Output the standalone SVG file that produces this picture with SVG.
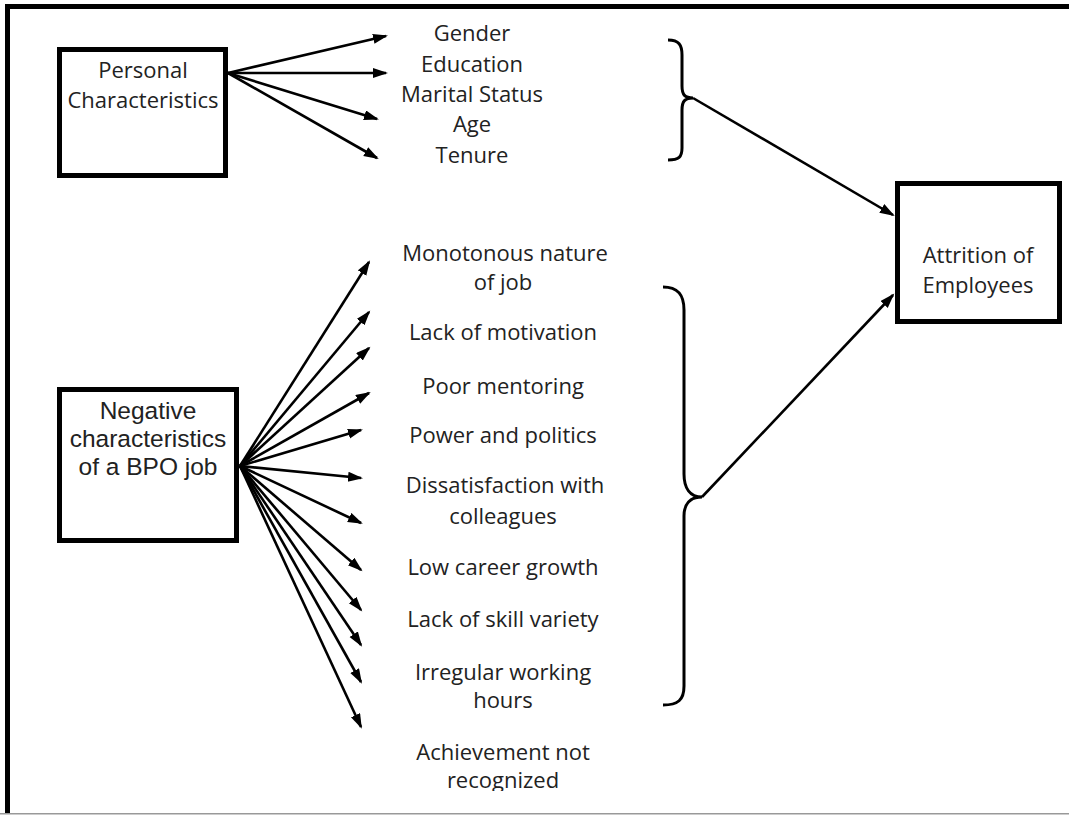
<svg xmlns="http://www.w3.org/2000/svg" width="1069" height="815" viewBox="0 0 1069 815">
<defs>
<style>
.box{fill:#fff;stroke:#000;stroke-width:5}
.lbl{font-family:"Open Sans","Liberation Sans",sans-serif;font-size:22px;fill:#222;text-anchor:middle}
.arial{font-family:"Liberation Sans",Arial,sans-serif;font-size:24.5px;fill:#222;text-anchor:middle}
.con{stroke:#000;stroke-width:2.6;fill:none;marker-end:url(#ah)}
.brace{stroke:#000;stroke-width:3;fill:none}
</style>
<marker id="ah" markerUnits="userSpaceOnUse" markerWidth="16" markerHeight="12" refX="13" refY="5" orient="auto">
<path d="M0,0 L15,5 L0,10 z" fill="#000"/>
</marker>
<clipPath id="clipb"><rect x="0" y="0" width="1069" height="791"/></clipPath>
</defs>
<rect x="0" y="0" width="1069" height="815" fill="#fff"/>
<g id="frame">
<rect x="5" y="4" width="1064" height="5" fill="#000"/>
<rect x="5" y="4" width="5" height="810" fill="#000"/>
<rect x="0" y="813" width="1069" height="1.5" fill="#999"/>
</g>
<g id="personal">
<rect class="box" x="59.5" y="49.5" width="166" height="126"/>
<text class="lbl" x="143" y="78">Personal</text>
<text class="lbl" x="143" y="108">Characteristics</text>
</g>
<g id="negative">
<rect class="box" x="59.5" y="389.5" width="177" height="151"/>
<text class="arial" x="148" y="419">Negative</text>
<text class="arial" x="148" y="447">characteristics</text>
<text class="arial" x="148" y="475">of a BPO job</text>
</g>
<g id="attrition">
<rect class="box" x="897.5" y="183.5" width="162" height="138"/>
<text class="lbl" x="978" y="263">Attrition of</text>
<text class="lbl" x="978" y="293">Employees</text>
</g>
<g id="personal-items">
<text class="lbl" x="472" y="41">Gender</text>
<text class="lbl" x="472" y="72">Education</text>
<text class="lbl" x="472" y="102">Marital Status</text>
<text class="lbl" x="472" y="132">Age</text>
<text class="lbl" x="472" y="163">Tenure</text>
</g>
<g id="negative-items">
<text class="lbl" x="505" y="261">Monotonous nature</text>
<text class="lbl" x="503" y="290">of job</text>
<text class="lbl" x="503" y="340">Lack of motivation</text>
<text class="lbl" x="503" y="394">Poor mentoring</text>
<text class="lbl" x="503" y="443">Power and politics</text>
<text class="lbl" x="505" y="493">Dissatisfaction with</text>
<text class="lbl" x="503" y="524">colleagues</text>
<text class="lbl" x="503" y="575">Low career growth</text>
<text class="lbl" x="503" y="627">Lack of skill variety</text>
<text class="lbl" x="503" y="680">Irregular working</text>
<text class="lbl" x="503" y="708">hours</text>
<text class="lbl" x="503" y="760">Achievement not</text>
<text class="lbl" x="503" y="788" clip-path="url(#clipb)">recognized</text>
</g>
<g id="braces">
<path class="brace" d="M668,40 C679,40 682,45 682,55 L682,86 C682,95 685,98 693,98 C685,98 682,101 682,110 L682,148 C682,157 679,160 668,160"/>
<path class="brace" d="M663,287 C678,287 684,295 684,310 L684,474 C684,488 690,497 702,497 C690,497 684,504 684,516 L684,686 C684,700 678,705 663,705"/>
</g>
<g id="connectors">
<line class="con" x1="228" y1="73" x2="386" y2="36"/>
<line class="con" x1="228" y1="73" x2="386" y2="73"/>
<line class="con" x1="228" y1="73" x2="377" y2="119"/>
<line class="con" x1="228" y1="73" x2="377" y2="158"/>
<line class="con" x1="240" y1="466" x2="369" y2="262"/>
<line class="con" x1="240" y1="466" x2="369" y2="312"/>
<line class="con" x1="240" y1="466" x2="369" y2="348"/>
<line class="con" x1="240" y1="466" x2="369" y2="393"/>
<line class="con" x1="240" y1="466" x2="361" y2="430"/>
<line class="con" x1="240" y1="466" x2="361" y2="478"/>
<line class="con" x1="240" y1="466" x2="361" y2="523"/>
<line class="con" x1="240" y1="466" x2="361" y2="570"/>
<line class="con" x1="240" y1="466" x2="361" y2="610"/>
<line class="con" x1="240" y1="466" x2="361" y2="645"/>
<line class="con" x1="240" y1="466" x2="361" y2="682"/>
<line class="con" x1="240" y1="466" x2="361" y2="727"/>
<line class="con" x1="693" y1="98" x2="893" y2="215"/>
<line class="con" x1="702" y1="497" x2="893" y2="295"/>
</g>
</svg>
